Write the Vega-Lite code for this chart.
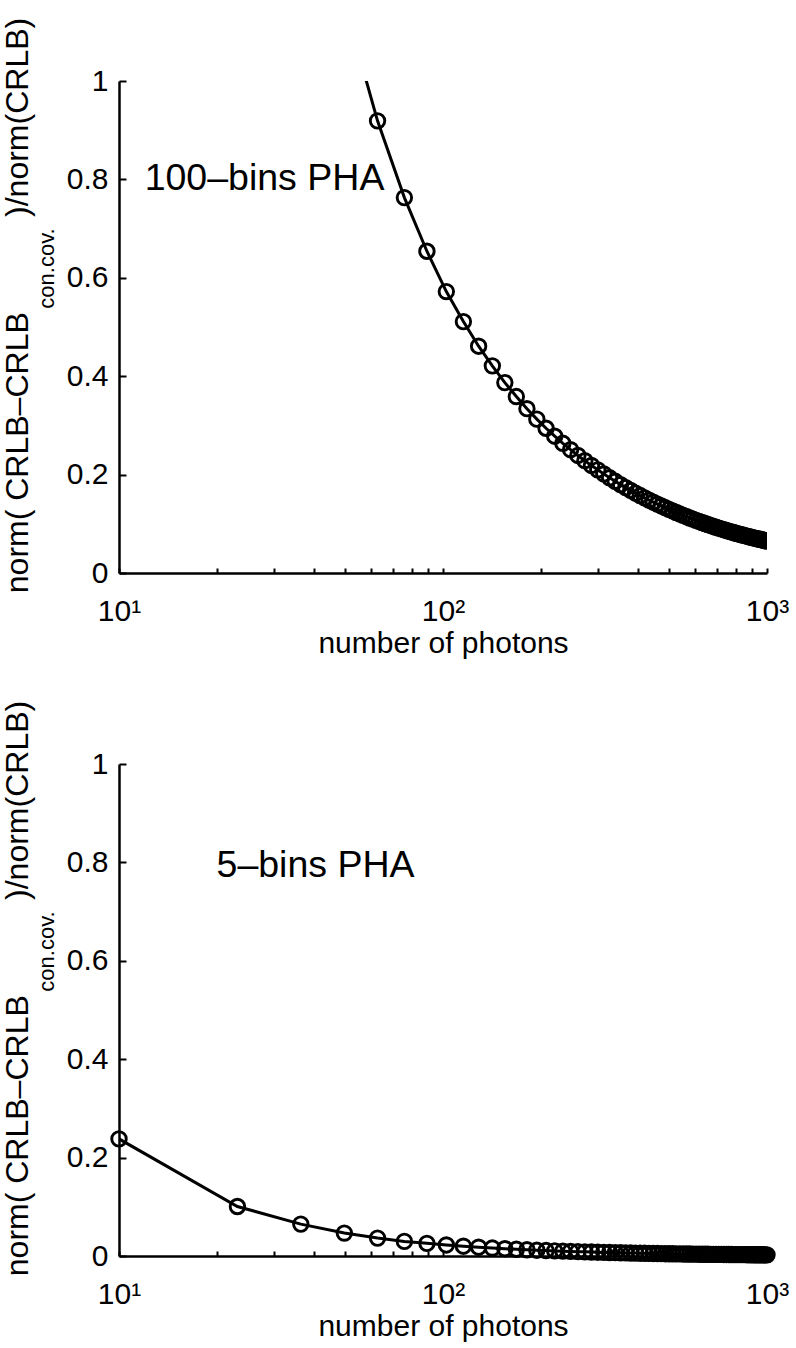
{
  "$schema": "https://vega.github.io/schema/vega-lite/v6.json",
  "background": "white",
  "padding": {"left": 0, "top": 17, "right": 12, "bottom": 4},
  "bounds": "flush",
  "spacing": 191,
  "config": {
    "view": {"stroke": null},
    "font": "Liberation Sans",
    "axis": {
      "grid": false,
      "domainColor": "black",
      "domainWidth": 2.5,
      "tickColor": "black",
      "tickWidth": 2,
      "labelColor": "black",
      "titleColor": "black",
      "labelFont": "Liberation Sans",
      "titleFont": "Liberation Sans",
      "labelFontSize": 30,
      "titleFontSize": 30,
      "titleFontWeight": "normal"
    }
  },
  "datasets": {
    "pha100": [
      {"n": 10, "v": 5.75}, {"n": 23.2, "v": 2.478}, {"n": 36.4, "v": 1.58}, {"n": 49.6, "v": 1.159},
      {"n": 62.8, "v": 0.919}, {"n": 76, "v": 0.763}, {"n": 89.2, "v": 0.654}, {"n": 102.4, "v": 0.572},
      {"n": 115.6, "v": 0.511}, {"n": 128.8, "v": 0.461}, {"n": 142, "v": 0.421}, {"n": 155.2, "v": 0.387},
      {"n": 168.4, "v": 0.3586}, {"n": 181.6, "v": 0.334}, {"n": 194.8, "v": 0.3127}, {"n": 208, "v": 0.2942},
      {"n": 221.2, "v": 0.278}, {"n": 234.4, "v": 0.2636}, {"n": 247.6, "v": 0.2506}, {"n": 260.8, "v": 0.2389},
      {"n": 274, "v": 0.2283}, {"n": 287.2, "v": 0.2186}, {"n": 300.4, "v": 0.2097}, {"n": 313.6, "v": 0.2013},
      {"n": 326.8, "v": 0.1935}, {"n": 340, "v": 0.1864}, {"n": 353.2, "v": 0.1797}, {"n": 366.4, "v": 0.1736},
      {"n": 379.6, "v": 0.1678}, {"n": 392.8, "v": 0.1624}, {"n": 406, "v": 0.1574}, {"n": 419.2, "v": 0.1526},
      {"n": 432.4, "v": 0.1482}, {"n": 445.6, "v": 0.144}, {"n": 458.8, "v": 0.14}, {"n": 472, "v": 0.1363},
      {"n": 485.2, "v": 0.1327}, {"n": 498.4, "v": 0.1294}, {"n": 511.6, "v": 0.1261}, {"n": 524.8, "v": 0.123},
      {"n": 538, "v": 0.12}, {"n": 551.2, "v": 0.1171}, {"n": 564.4, "v": 0.1144}, {"n": 577.6, "v": 0.1118},
      {"n": 590.8, "v": 0.1094}, {"n": 604, "v": 0.107}, {"n": 617.2, "v": 0.1048}, {"n": 630.4, "v": 0.1026},
      {"n": 643.6, "v": 0.1005}, {"n": 656.8, "v": 0.0985}, {"n": 670, "v": 0.0966}, {"n": 683.2, "v": 0.0947},
      {"n": 696.4, "v": 0.093}, {"n": 709.6, "v": 0.0912}, {"n": 722.8, "v": 0.0896}, {"n": 736, "v": 0.088},
      {"n": 749.2, "v": 0.0865}, {"n": 762.4, "v": 0.085}, {"n": 775.6, "v": 0.0836}, {"n": 788.8, "v": 0.0822},
      {"n": 802, "v": 0.0808}, {"n": 815.2, "v": 0.0796}, {"n": 828.4, "v": 0.0783}, {"n": 841.6, "v": 0.0771},
      {"n": 854.8, "v": 0.0759}, {"n": 868, "v": 0.0748}, {"n": 881.2, "v": 0.0737}, {"n": 894.4, "v": 0.0726},
      {"n": 907.6, "v": 0.0715}, {"n": 920.8, "v": 0.0705}, {"n": 934, "v": 0.0695}, {"n": 947.2, "v": 0.0686},
      {"n": 960.4, "v": 0.0677}, {"n": 973.6, "v": 0.0667}, {"n": 986.8, "v": 0.0659}, {"n": 1000, "v": 0.065}
    ],
    "pha5": [
      {"n": 10, "v": 0.238}, {"n": 23.2, "v": 0.1006}, {"n": 36.4, "v": 0.0648}, {"n": 49.6, "v": 0.0466},
      {"n": 62.8, "v": 0.0364}, {"n": 76, "v": 0.0297}, {"n": 89.2, "v": 0.0257}, {"n": 102.4, "v": 0.0225},
      {"n": 115.6, "v": 0.0199}, {"n": 128.8, "v": 0.0179}, {"n": 142, "v": 0.0162}, {"n": 155.2, "v": 0.0148},
      {"n": 168.4, "v": 0.0137}, {"n": 181.6, "v": 0.0127}, {"n": 194.8, "v": 0.0118}, {"n": 208, "v": 0.0111},
      {"n": 221.2, "v": 0.0104}, {"n": 234.4, "v": 0.0098}, {"n": 247.6, "v": 0.0093}, {"n": 260.8, "v": 0.0088},
      {"n": 274, "v": 0.0084}, {"n": 287.2, "v": 0.008}, {"n": 300.4, "v": 0.0077}, {"n": 313.6, "v": 0.0073},
      {"n": 326.8, "v": 0.007}, {"n": 340, "v": 0.0068}, {"n": 353.2, "v": 0.0065}, {"n": 366.4, "v": 0.0063},
      {"n": 379.6, "v": 0.0061}, {"n": 392.8, "v": 0.0059}, {"n": 406, "v": 0.0057}, {"n": 419.2, "v": 0.0055},
      {"n": 432.4, "v": 0.0053}, {"n": 445.6, "v": 0.0052}, {"n": 458.8, "v": 0.005}, {"n": 472, "v": 0.0049},
      {"n": 485.2, "v": 0.0047}, {"n": 498.4, "v": 0.0046}, {"n": 511.6, "v": 0.0045}, {"n": 524.8, "v": 0.0044},
      {"n": 538, "v": 0.0043}, {"n": 551.2, "v": 0.0042}, {"n": 564.4, "v": 0.0041}, {"n": 577.6, "v": 0.004},
      {"n": 590.8, "v": 0.0039}, {"n": 604, "v": 0.0038}, {"n": 617.2, "v": 0.0037}, {"n": 630.4, "v": 0.0036},
      {"n": 643.6, "v": 0.0036}, {"n": 656.8, "v": 0.0035}, {"n": 670, "v": 0.0034}, {"n": 683.2, "v": 0.0034},
      {"n": 696.4, "v": 0.0033}, {"n": 709.6, "v": 0.0032}, {"n": 722.8, "v": 0.0032}, {"n": 736, "v": 0.0031},
      {"n": 749.2, "v": 0.0031}, {"n": 762.4, "v": 0.003}, {"n": 775.6, "v": 0.003}, {"n": 788.8, "v": 0.0029},
      {"n": 802, "v": 0.0029}, {"n": 815.2, "v": 0.0028}, {"n": 828.4, "v": 0.0028}, {"n": 841.6, "v": 0.0027},
      {"n": 854.8, "v": 0.0027}, {"n": 868, "v": 0.0026}, {"n": 881.2, "v": 0.0026}, {"n": 894.4, "v": 0.0026},
      {"n": 907.6, "v": 0.0025}, {"n": 920.8, "v": 0.0025}, {"n": 934, "v": 0.0025}, {"n": 947.2, "v": 0.0024},
      {"n": 960.4, "v": 0.0024}, {"n": 973.6, "v": 0.0024}, {"n": 986.8, "v": 0.0023}, {"n": 1000, "v": 0.0023}
    ],
    "label100": [{"label": "100–bins PHA"}],
    "label5": [{"label": "5–bins PHA"}]
  },
  "vconcat": [
    {
      "width": 648,
      "height": 492,
      "resolve": {"axis": {"y": "independent"}},
      "layer": [
        {
          "data": {"name": "pha100"},
          "mark": {"type": "line", "color": "black", "strokeWidth": 3, "clip": true},
          "encoding": {
            "x": {"field": "n", "type": "quantitative", "scale": {"type": "log", "domain": [10, 1000], "nice": false},
              "axis": {"values": [10, 20, 30, 40, 50, 60, 70, 80, 90, 100, 200, 300, 400, 500, 600, 700, 800, 900, 1000],
                "labelExpr": "datum.value == 10 ? '10¹' : datum.value == 100 ? '10²' : datum.value == 1000 ? '10³' : ''",
                "tickSize": -5, "labelPadding": 28, "labelFlush": false, "labelOverlap": false,
                "title": "number of photons", "titlePadding": 2}},
            "y": {"field": "v", "type": "quantitative", "scale": {"domain": [0, 1], "nice": false},
              "axis": {"orient": "left", "values": [0, 0.2, 0.4, 0.6, 0.8, 1], "format": "~g", "tickSize": -7, "labelPadding": 18,
                "labelFlush": false, "labelOverlap": false,
                "title": "norm( CRLB–CRLB\u2003\u2003\u2002\u2009 )/norm(CRLB)", "titleFontSize": 32, "titleAngle": -90, "titleX": -92, "titleY": 224,
                "titleAlign": "center", "titleBaseline": "alphabetic"}}
          }
        },
        {
          "data": {"name": "pha100"},
          "mark": {"type": "point", "shape": "circle", "filled": false, "color": "black", "size": 210, "strokeWidth": 2.9, "opacity": 1, "clip": true},
          "encoding": {
            "x": {"field": "n", "type": "quantitative"},
            "y": {"field": "v", "type": "quantitative",
              "axis": {"orient": "left", "labels": false, "ticks": false, "domain": false, "title": "con.cov.",
                "titleFontSize": 22, "titleAngle": -90, "titleX": -66, "titleY": 187, "titleAlign": "center", "titleBaseline": "alphabetic"}}
          }
        },
        {
          "data": {"name": "label100"},
          "mark": {"type": "text", "fontSize": 37.5, "align": "left", "baseline": "alphabetic", "color": "black", "font": "Liberation Sans"},
          "encoding": {
            "x": {"datum": 12, "type": "quantitative"},
            "y": {"datum": 0.778, "type": "quantitative", "axis": null},
            "text": {"field": "label", "type": "nominal"}
          }
        }
      ]
    },
    {
      "width": 648,
      "height": 492,
      "resolve": {"axis": {"y": "independent"}},
      "layer": [
        {
          "data": {"name": "pha5"},
          "mark": {"type": "line", "color": "black", "strokeWidth": 3, "clip": true},
          "encoding": {
            "x": {"field": "n", "type": "quantitative", "scale": {"type": "log", "domain": [10, 1000], "nice": false},
              "axis": {"values": [10, 20, 30, 40, 50, 60, 70, 80, 90, 100, 200, 300, 400, 500, 600, 700, 800, 900, 1000],
                "labelExpr": "datum.value == 10 ? '10¹' : datum.value == 100 ? '10²' : datum.value == 1000 ? '10³' : ''",
                "tickSize": -5, "labelPadding": 28, "labelFlush": false, "labelOverlap": false,
                "title": "number of photons", "titlePadding": 2}},
            "y": {"field": "v", "type": "quantitative", "scale": {"domain": [0, 1], "nice": false},
              "axis": {"orient": "left", "values": [0, 0.2, 0.4, 0.6, 0.8, 1], "format": "~g", "tickSize": -7, "labelPadding": 18,
                "labelFlush": false, "labelOverlap": false,
                "title": "norm( CRLB–CRLB\u2003\u2003\u2002\u2009 )/norm(CRLB)", "titleFontSize": 32, "titleAngle": -90, "titleX": -92, "titleY": 224,
                "titleAlign": "center", "titleBaseline": "alphabetic"}}
          }
        },
        {
          "data": {"name": "pha5"},
          "mark": {"type": "point", "shape": "circle", "filled": false, "color": "black", "size": 210, "strokeWidth": 2.9, "opacity": 1, "clip": false},
          "encoding": {
            "x": {"field": "n", "type": "quantitative"},
            "y": {"field": "v", "type": "quantitative",
              "axis": {"orient": "left", "labels": false, "ticks": false, "domain": false, "title": "con.cov.",
                "titleFontSize": 22, "titleAngle": -90, "titleX": -66, "titleY": 187, "titleAlign": "center", "titleBaseline": "alphabetic"}}
          }
        },
        {
          "data": {"name": "label5"},
          "mark": {"type": "text", "fontSize": 37.5, "align": "left", "baseline": "alphabetic", "color": "black", "font": "Liberation Sans"},
          "encoding": {
            "x": {"datum": 20, "type": "quantitative"},
            "y": {"datum": 0.77, "type": "quantitative", "axis": null},
            "text": {"field": "label", "type": "nominal"}
          }
        }
      ]
    }
  ]
}
